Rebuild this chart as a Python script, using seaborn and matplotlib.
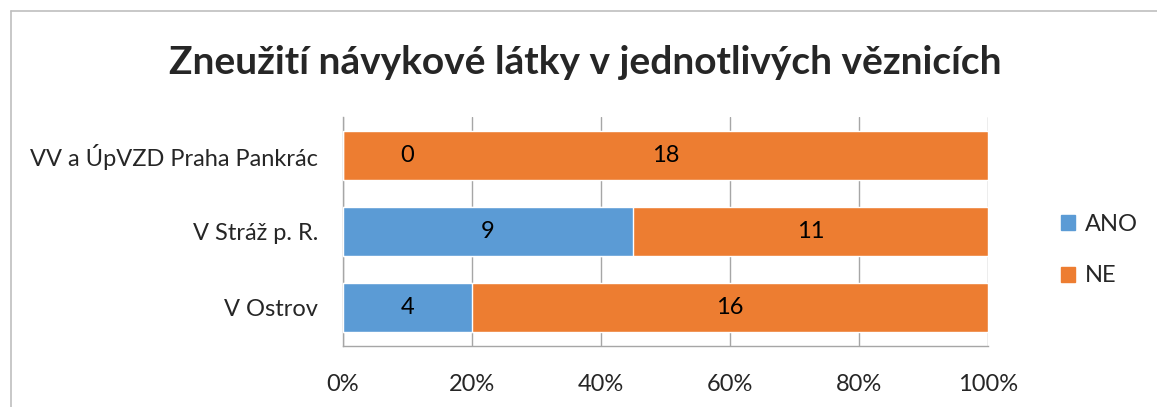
import matplotlib
matplotlib.use("Agg")
import matplotlib.pyplot as plt
import matplotlib.patches as mpatches
import seaborn as sns
import pandas as pd

# data
veznice = ["VV a ÚpVZD Praha Pankrác", "V Stráž p. R.", "V Ostrov"]
ano = [0, 9, 4]
ne = [18, 11, 16]
x_ticks = [0, 20, 40, 60, 80, 100]
x_labels = ["0%", "20%", "40%", "60%", "80%", "100%"]

df = pd.DataFrame({"veznice": veznice, "ANO": ano, "NE": ne})
df["celkem"] = df["ANO"] + df["NE"]
df["ANO_pct"] = df["ANO"] / df["celkem"] * 100
df["vse_pct"] = 100.0

sns.set_style("white")
plt.rcParams["font.family"] = ["Lato", "DejaVu Sans"]

c_ano = "#5B9BD5"
c_ne = "#ED7D31"
grid_c = "#A6A6A6"
fs = 17

fig = plt.figure(figsize=(11.57, 4.07), dpi=100)
ax = fig.add_axes([343 / 1157, 1 - 346 / 407, 645 / 1157, 229 / 407])

# NE = cely pruh, ANO prekryva zleva
sns.barplot(data=df, x="vse_pct", y="veznice", color=c_ne, width=0.64,
            saturation=1, ax=ax, zorder=3)
sns.barplot(data=df, x="ANO_pct", y="veznice", color=c_ano, width=0.64,
            saturation=1, ax=ax, zorder=4)

# popisky hodnot
for i, r in df.iterrows():
    pos_ano = r["ANO_pct"] / 2 if r["ANO"] > 0 else 10
    ax.text(pos_ano, i, str(r["ANO"]), ha="center", va="center",
            fontsize=fs, color="black", zorder=5)
    ax.text((r["ANO_pct"] + 100) / 2, i, str(r["NE"]), ha="center",
            va="center", fontsize=fs, color="black", zorder=5)

ax.set_xlim(0, 100)
ax.set_ylim(2.5, -0.5)
ax.set_xticks(x_ticks)
ax.set_xticklabels(x_labels, fontsize=fs)
ax.tick_params(axis="x", pad=20, length=0)
ax.tick_params(axis="y", pad=18, length=0, labelsize=fs)
ax.set_xlabel("")
ax.set_ylabel("")
ax.xaxis.grid(True, color=grid_c, linewidth=1.0, zorder=0)
ax.set_axisbelow(True)
for s in ["top", "right"]:
    ax.spines[s].set_visible(False)
for s in ["left", "bottom"]:
    ax.spines[s].set_color(grid_c)
    ax.spines[s].set_linewidth(1.0)

fig.text(585 / 1157, 1 - 62 / 407, "Zneužití návykové látky v jednotlivých věznicích",
         ha="center", va="center", fontsize=28, fontweight="bold")

handles = [mpatches.Patch(color=c_ano, label="ANO"),
           mpatches.Patch(color=c_ne, label="NE")]
fig.legend(handles=handles, loc="center left",
           bbox_to_anchor=(1040 / 1157, 1 - 250 / 407), frameon=False,
           fontsize=fs, handlelength=0.6, handleheight=0.6,
           handletextpad=0.4, labelspacing=1.3)

# ramecek grafu
fig.add_artist(plt.Line2D([11 / 1157, 1], [1 - 11 / 407, 1 - 11 / 407],
                          color="#BFBFBF", linewidth=1.2))
fig.add_artist(plt.Line2D([11 / 1157, 11 / 1157], [0, 1 - 11 / 407],
                          color="#BFBFBF", linewidth=1.2))

fig.savefig("out.png", dpi=100)
